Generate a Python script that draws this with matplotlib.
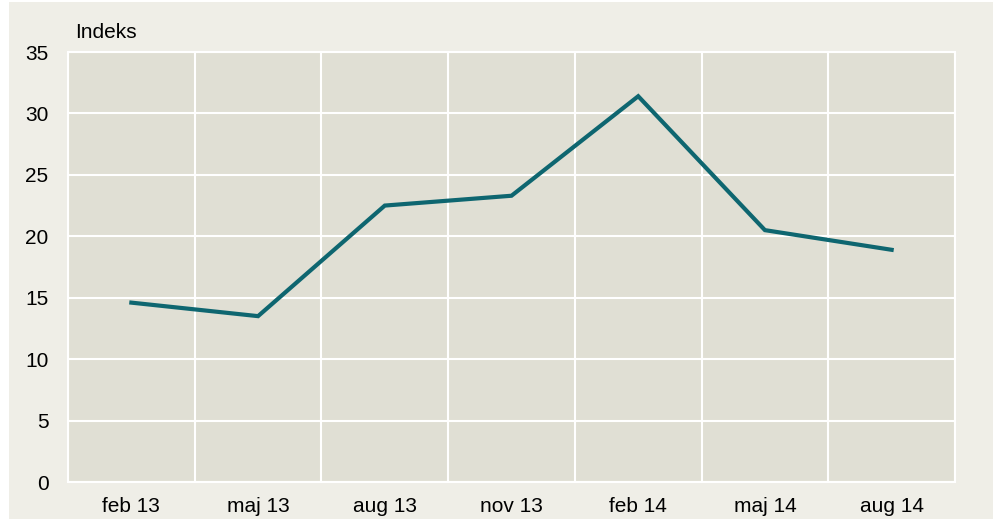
'''Line chart: Indeks, feb 13 - aug 14.'''

import matplotlib.pyplot as plt
from matplotlib.patches import Rectangle

# Data
labels = ["feb 13", "maj 13", "aug 13", "nov 13", "feb 14", "maj 14", "aug 14"]
values = [14.6, 13.5, 22.5, 23.3, 31.4, 20.5, 18.9]
yticks = [0, 5, 10, 15, 20, 25, 30, 35]

plt.rcParams["font.family"] = ["Liberation Sans", "DejaVu Sans"]

fig = plt.figure(figsize=(9.98, 5.19), dpi=100)
fig.patch.set_facecolor("white")

# beige panel behind the chart
fig.patches.append(Rectangle((9 / 998, 0), 984 / 998, 517 / 519,
                             transform=fig.transFigure, facecolor="#EFEEE7",
                             edgecolor="none", zorder=-10))

ax = fig.add_axes([68 / 998, 1 - 482 / 519, 887 / 998, 430 / 519])
ax.set_facecolor("#E0DFD4")
ax.set_zorder(1)

x = list(range(len(labels)))
ax.plot(x, values, color="#0E6670", linewidth=3, zorder=3, solid_joinstyle="miter")

ax.set_xlim(-0.5, len(labels) - 0.5)
ax.set_ylim(0, 35)
ax.set_xticks(x)
ax.set_xticklabels(labels, fontsize=15)
ax.set_xticks([i - 0.5 for i in range(len(labels) + 1)], minor=True)
ax.set_yticks(yticks)
ax.set_yticklabels([str(t) for t in yticks], fontsize=15)

ax.tick_params(axis="x", which="major", length=0, pad=10.5, colors="black")
ax.tick_params(axis="x", which="minor", length=0)
ax.tick_params(axis="y", length=0, pad=14, colors="black")

ax.grid(axis="y", which="major", color="white", linewidth=1.5)
ax.grid(axis="x", which="minor", color="white", linewidth=1.5)
ax.set_axisbelow(True)

for s in ax.spines.values():
    s.set_color("white")
    s.set_linewidth(1.5)

fig.text(75 / 998, 1 - 33 / 519, "Indeks", fontsize=15, ha="left", va="center")

plt.savefig("out.png", dpi=100, facecolor=fig.get_facecolor())
